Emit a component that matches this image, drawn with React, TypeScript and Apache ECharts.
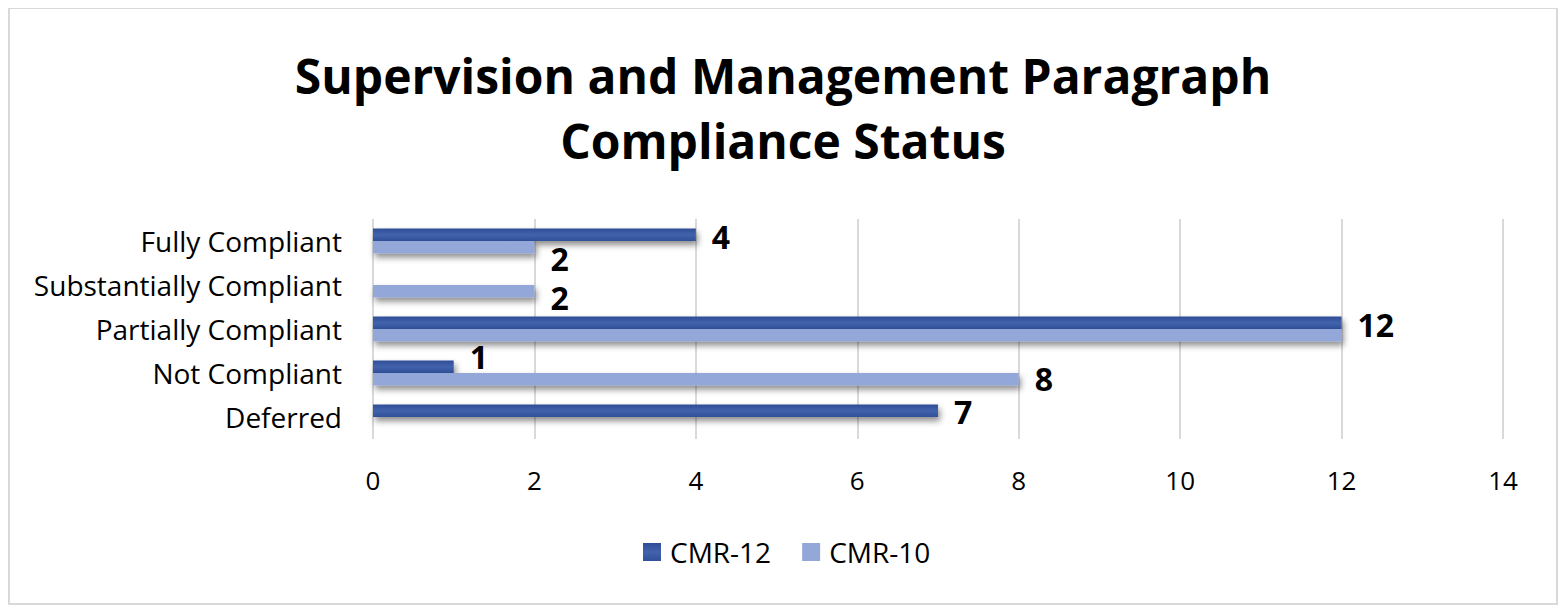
import React, { useEffect, useRef } from "react";
import * as echarts from "echarts";

const categories = [
  "Fully Compliant",
  "Substantially Compliant",
  "Partially Compliant",
  "Not Compliant",
  "Deferred",
];
const cmr12 = [4, 0, 12, 1, 7];
const cmr10 = [2, 2, 12, 8, 0];
const xTicks = { min: 0, max: 14, interval: 2 };

// label nudges (style only), keyed by category index
const nudge12: Record<number, number> = { 0: 2, 2: 2, 3: -10, 4: 1 };
const nudge10: Record<number, number> = { 0: 11, 1: 6, 3: -1 };
const hide10: Record<number, boolean> = { 2: true };

const FONT = "Open Sans";

export default function App() {
  const ref = useRef<HTMLDivElement>(null);
  useEffect(() => {
    if (!ref.current) return;
    const chart = echarts.init(ref.current, undefined, { renderer: "svg" });
    const darkGrad = new echarts.graphic.LinearGradient(0, 0, 0, 1, [
      { offset: 0, color: "#2f4d95" },
      { offset: 0.5, color: "#4262ad" },
      { offset: 1, color: "#30509a" },
    ]);
    const lightColor = "#93a8d8";
    const shadow = {
      shadowColor: "rgba(0,0,0,0.45)",
      shadowBlur: 6,
      shadowOffsetX: 2,
      shadowOffsetY: 4,
    };
    const labelBase = {
      show: true,
      position: "right" as const,
      distance: 16,
      fontFamily: FONT,
      fontWeight: "bold" as const,
      fontSize: 32,
      color: "#000",
    };
    const mk = (vals: number[], nudge: Record<number, number>, hide: Record<number, boolean>) =>
      vals.map((v, i) => ({
        value: v,
        label: {
          show: v !== 0 && !hide[i],
          offset: [0, nudge[i] || 0],
        },
      }));
    chart.setOption({
      animation: false,
      backgroundColor: "#fff",
      title: {
        text: "Supervision and Management Paragraph\nCompliance Status",
        left: "center",
        top: 30,
        textStyle: {
          fontFamily: FONT,
          fontWeight: "bold",
          fontSize: 48,
          lineHeight: 65,
          color: "#000",
        },
      },
      legend: {
        bottom: 35,
        left: 630,
        itemWidth: 18,
        itemHeight: 18,
        itemGap: 31,
        icon: "rect",
        textStyle: { fontFamily: FONT, fontSize: 28, color: "#000", padding: [0, 0, 0, 4] },
        data: [
          { name: "CMR-12", itemStyle: { color: darkGrad } },
          { name: "CMR-10", itemStyle: { color: lightColor } },
        ],
      },
      grid: { left: 365, right: 55, top: 211, bottom: 167, containLabel: false },
      xAxis: {
        type: "value",
        min: xTicks.min,
        max: xTicks.max,
        interval: xTicks.interval,
        axisLine: { show: false },
        axisTick: { show: false },
        splitLine: { show: true, lineStyle: { color: "#d9d9d9", width: 2 } },
        axisLabel: { margin: 28, fontFamily: FONT, fontSize: 26, color: "#000" },
      },
      yAxis: {
        type: "category",
        data: categories,
        inverse: true,
        axisLine: { show: false },
        axisTick: { show: false },
        axisLabel: { margin: 31, fontFamily: FONT, fontSize: 28, color: "#000" },
      },
      graphic: [
        {
          type: "rect",
          shape: { x: 1, y: 0, width: 1548, height: 596 },
          style: { fill: "none", stroke: "#d9d9d9", lineWidth: 2 },
          silent: true,
        },
      ],
      series: [
        {
          name: "CMR-12",
          type: "bar",
          data: mk(cmr12, nudge12, {}),
          barGap: "0%",
          barCategoryGap: "43%",
          itemStyle: { color: darkGrad, ...shadow },
          label: labelBase,
        },
        {
          name: "CMR-10",
          type: "bar",
          data: mk(cmr10, nudge10, hide10),
          barGap: "0%",
          barCategoryGap: "43%",
          itemStyle: { color: lightColor, ...shadow },
          label: labelBase,
        },
      ],
    });
    return () => chart.dispose();
  }, []);
  return <div ref={ref} style={{ width: 1550, height: 598 }} />;
}
